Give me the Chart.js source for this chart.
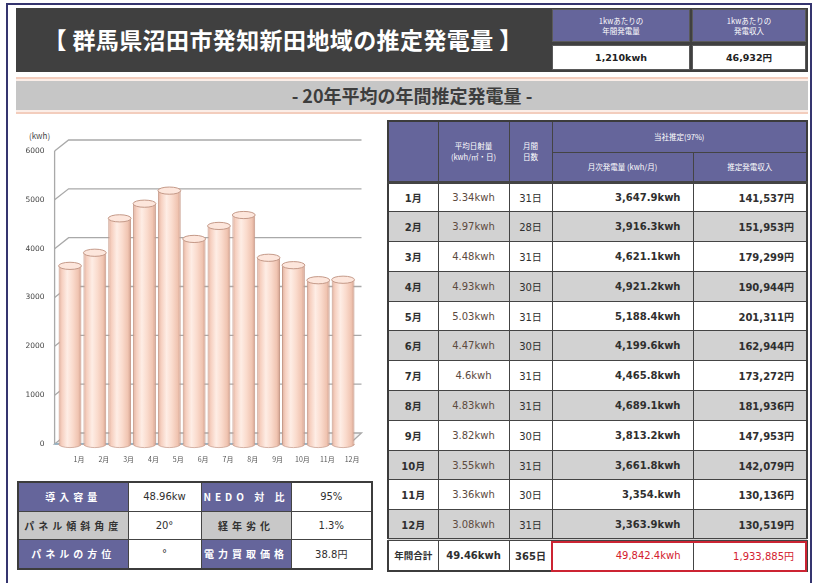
<!DOCTYPE html>
<html><head><meta charset="utf-8">
<script src="https://cdn.jsdelivr.net/npm/chart.js@4.4.1/dist/chart.umd.min.js"></script>
<style>
body{margin:0;background:#fff;}
#page{position:relative;width:817px;height:583px;overflow:hidden;font-family:"Noto Sans CJK JP",sans-serif;background:#fff;}
.a{position:absolute;box-sizing:border-box;}
#frame{left:6px;top:3px;width:806px;height:620px;border:2px solid #35356f;}
#hdr{left:16px;top:8px;width:792px;height:64px;background:#404040;}
#title{left:16px;top:8px;width:534px;height:64px;line-height:62px;text-align:center;color:#fff;font-size:23px;font-weight:bold;letter-spacing:0.4px;}
.hc{background:#65659b;color:#fff;font-size:7.5px;text-align:center;line-height:10px;padding-top:6px;border:1px solid #5a5a5a;}
.hv{background:#fff;color:#222;font-size:9.5px;font-weight:bold;text-align:center;line-height:23px;font-family:"DejaVu Sans","Noto Sans CJK JP",sans-serif;border:1px solid #5a5a5a;}
#banner{left:16px;top:77px;width:792px;height:37px;background:#c6c6c6;border-top:2px solid #f3cdbd;border-bottom:2px solid #f3cdbd;box-shadow:inset 0 2px 0 #fbeee8,inset 0 -2px 0 #fbeee8;text-align:center;line-height:32px;font-size:18px;font-weight:bold;color:#3d3d3d;}
#unit{left:29px;top:130px;font-size:8px;color:#444;}
#chartbox{left:16px;top:120px;width:360px;height:350px;}
table{border-collapse:collapse;table-layout:fixed;position:absolute;}
#rt{left:387px;top:120px;width:419px;border:2px solid #3c3c3c;}
#rt th{background:#65659b;color:#fff;font-size:7.5px;font-weight:normal;border:1.5px solid #444;line-height:11px;padding:0;}
#rt td{border:1.5px solid #444;padding:0;font-size:10px;font-weight:bold;color:#2f2f2f;font-family:"DejaVu Sans","Noto Sans CJK JP",sans-serif;}
#rt tbody tr{height:29.8px;}
#rt tbody tr.g td{background:#d2d2d2;}
#rt td.m{text-align:center;}
#rt td.av{text-align:center;font-weight:normal;color:#5c4a3e;font-size:10px;}
#rt td.d{text-align:center;font-weight:normal;color:#2f2f2f;}
#rt td.r{text-align:right;padding-right:12px;}
#rt td.red{color:#d3202e;font-weight:normal;}
#rt tr.tot td{border-top:3px double #444;}
#redbox{left:551px;top:541px;width:256px;height:31px;border:2.5px solid #cc2433;}
#lt{left:17px;top:481px;width:354px;border:2px solid #3c3c3c;}
#lt td{border:1.5px solid #444;height:27.5px;padding:0;text-align:center;font-size:10px;font-weight:bold;color:#2f2f2f;}
#lt td.p{background:#65659b;color:#fff;letter-spacing:4px;}
#lt td.gy{background:#c8c8c8;color:#333;letter-spacing:4px;}
#lt td.v{font-family:"DejaVu Sans","Noto Sans CJK JP",sans-serif;font-weight:normal;}
</style></head>
<body>
<div id="page">
  <div class="a" id="frame"></div>
  <div class="a" id="hdr"></div>
  <div class="a" id="title">【 群馬県沼田市発知新田地域の推定発電量 】</div>
  <div class="a hc" style="left:552px;top:9px;width:138px;height:33px;">1kwあたりの<br>年間発電量</div>
  <div class="a hc" style="left:692px;top:9px;width:114px;height:33px;">1kwあたりの<br>発電収入</div>
  <div class="a hv" style="left:552px;top:45px;width:138px;height:25px;" id="perKwh"></div>
  <div class="a hv" style="left:692px;top:45px;width:114px;height:25px;" id="perYen"></div>
  <div class="a" id="banner">- 20年平均の年間推定発電量 -</div>
  <div class="a" id="unit">(kwh)</div>
  <div class="a" id="chartbox"><canvas id="c" width="360" height="350"></canvas></div>

  <table id="rt">
    <colgroup><col style="width:50px"><col style="width:71px"><col style="width:43px"><col style="width:141px"><col style="width:114px"></colgroup>
    <thead>
      <tr style="height:31px"><th rowspan="2" style="border-bottom:3px solid #444"></th><th rowspan="2" style="border-bottom:3px solid #444">平均日射量<br>(kwh/㎡・日)</th><th rowspan="2" style="border-bottom:3px solid #444">月間<br>日数</th><th colspan="2">当社推定(97%)</th></tr>
      <tr style="height:30px"><th style="border-bottom:3px solid #444">月次発電量 (kwh/月)</th><th style="border-bottom:3px solid #444">推定発電収入</th></tr>
    </thead>
    <tbody id="rtb"></tbody>
  </table>
  <div class="a" id="redbox"></div>

  <table id="lt">
    <colgroup><col style="width:110px"><col style="width:73px"><col style="width:90px"><col style="width:81px"></colgroup>
    <tbody id="ltb"></tbody>
  </table>
</div>
<script>
// ---- data ----
const months = ['1月','2月','3月','4月','5月','6月','7月','8月','9月','10月','11月','12月'];
const monthlyKwh = [3647.9, 3916.3, 4621.1, 4921.2, 5188.4, 4199.6, 4465.8, 4689.1, 3813.2, 3661.8, 3354, 3363.9];
const avgInsolation = ['3.34','3.97','4.48','4.93','5.03','4.47','4.6','4.83','3.82','3.55','3.36','3.08'];
const daysInMonth = [31, 28, 31, 30, 31, 30, 31, 31, 30, 31, 30, 31];
const incomeYen = [141537, 151953, 179299, 190944, 201311, 162944, 173272, 181936, 147953, 142079, 130136, 130519];
const totalKwhLabel = '49,842.4kwh';
const totalYenLabel = '1,933,885円';
const totalInsolationLabel = '49.46kwh';
const totalDaysLabel = '365日';
const yTicks = [0, 1000, 2000, 3000, 4000, 5000, 6000];
const perKwLabels = ['1,210kwh', '46,932円'];
const specRows = [
  ['導入容量', '48.96kw', 'NEDO 対 比', '95%'],
  ['パネル傾斜角度', '20°', '経年劣化', '1.3%'],
  ['パネルの方位', '°', '電力買取価格', '38.8円']
];

// ---- text tables ----
function fmtKwh(v){
  const ip = Math.floor(v), dp = Math.round((v-ip)*10);
  return ip.toLocaleString('en-US') + '.' + (dp ? dp : '') + 'kwh';
}
document.getElementById('perKwh').textContent = perKwLabels[0];
document.getElementById('perYen').textContent = perKwLabels[1];
const rtb = document.getElementById('rtb');
months.forEach((m,i)=>{
  const tr = document.createElement('tr');
  if(i%2===1) tr.className='g';
  tr.innerHTML = `<td class="m">${m}</td><td class="av">${avgInsolation[i]}kwh</td><td class="d">${daysInMonth[i]}日</td><td class="r">${fmtKwh(monthlyKwh[i])}</td><td class="r">${incomeYen[i].toLocaleString('en-US')}円</td>`;
  rtb.appendChild(tr);
});
const ttr = document.createElement('tr');
ttr.className='tot'; ttr.style.height='31px';
ttr.innerHTML = `<td class="m" style="font-size:9.5px">年間合計</td><td class="d" style="font-weight:bold">${totalInsolationLabel}</td><td class="d" style="font-weight:bold">${totalDaysLabel}</td><td class="r red">${totalKwhLabel}</td><td class="r red">${totalYenLabel}</td>`;
rtb.appendChild(ttr);
const ltb = document.getElementById('ltb');
specRows.forEach((r,i)=>{
  const tr = document.createElement('tr');
  const cls = i===1 ? 'gy' : 'p';
  tr.innerHTML = `<td class="${cls}">${r[0]}</td><td class="v">${r[1]}</td><td class="${cls}">${r[2]}</td><td class="v">${r[3]}</td>`;
  ltb.appendChild(tr);
});

// ---- chart ----
const BAR_PCT = 0.92;
const DX = 14, DY = 11;
function cylGrad(c){
  const chart = c.chart, xs = chart.scales && chart.scales.x;
  if(!xs || c.dataIndex == null || !chart.chartArea) return '#f8d3c2';
  const cx = xs.getPixelForValue(c.dataIndex);
  const step = xs.getPixelForValue(1) - xs.getPixelForValue(0);
  const bw = step * BAR_PCT;
  const g = chart.ctx.createLinearGradient(cx - bw/2, 0, cx + bw/2, 0);
  g.addColorStop(0, '#dcae9d');
  g.addColorStop(0.14, '#f6cfbf');
  g.addColorStop(0.38, '#feede5');
  g.addColorStop(0.62, '#fadbcd');
  g.addColorStop(0.86, '#f0c4b1');
  g.addColorStop(1, '#cf9e8c');
  return g;
}
const threeD = {
  id: 'threeD',
  beforeDatasetsDraw(chart){
    const {ctx, chartArea: a, scales: {y}} = chart;
    const L = a.left - 3, R = a.right + 6;
    const y0 = y.getPixelForValue(0);
    ctx.save();
    ctx.strokeStyle = '#a9a9a9'; ctx.lineWidth = 1.3;
    y.ticks.forEach(t=>{
      if(t.value === 0) return;
      const py = y.getPixelForValue(t.value);
      ctx.beginPath(); ctx.moveTo(L, py); ctx.lineTo(L + DX, py - DY); ctx.lineTo(R, py - DY); ctx.stroke();
    });
    ctx.beginPath(); ctx.moveTo(L, y.getPixelForValue(y.max)); ctx.lineTo(L, y0); ctx.stroke();
    ctx.fillStyle = '#f4f4f4';
    ctx.beginPath(); ctx.moveTo(L, y0); ctx.lineTo(L + DX, y0 - DY); ctx.lineTo(R, y0 - DY); ctx.lineTo(R - DX + 2, y0); ctx.closePath(); ctx.fill(); ctx.stroke();
    ctx.strokeStyle = '#8fb3ca'; ctx.lineWidth = 1.5;
    ctx.beginPath(); ctx.moveTo(L, y0); ctx.lineTo(R - DX + 2, y0); ctx.stroke();
    ctx.restore();
  },
  afterDatasetsDraw(chart){
    const ctx = chart.ctx;
    const meta = chart.getDatasetMeta(0);
    ctx.save();
    meta.data.forEach((bar, i)=>{
      const p = bar.getProps(['x','y','base','width'], true);
      const rx = p.width/2, ry = 3.6;
      ctx.fillStyle = bar.options.backgroundColor;
      ctx.beginPath(); ctx.ellipse(p.x, p.base, rx, ry, 0, 0, Math.PI); ctx.fill();
      ctx.strokeStyle = '#c9a090'; ctx.lineWidth = 0.8; ctx.stroke();
      ctx.beginPath(); ctx.ellipse(p.x, p.y, rx, ry, 0, 0, 2*Math.PI);
      ctx.fillStyle = '#fde6dc'; ctx.fill();
      ctx.strokeStyle = '#c49988'; ctx.lineWidth = 1; ctx.stroke();
    });
    ctx.restore();
  }
};
new Chart(document.getElementById('c'), {
  type: 'bar',
  data: {
    labels: months,
    datasets: [{
      data: monthlyKwh,
      backgroundColor: cylGrad,
      borderColor: '#c79a89',
      borderWidth: {left: 1, right: 1, top: 0, bottom: 0},
      borderSkipped: false,
      barPercentage: BAR_PCT,
      categoryPercentage: 1
    }]
  },
  options: {
    responsive: false,
    animation: false,
    devicePixelRatio: 1,
    layout: {padding: {top: 31, right: 20.5, bottom: 0, left: 0}},
    plugins: {legend: {display: false}, tooltip: {enabled: false}},
    scales: {
      x: {
        grid: {display: false, drawTicks: false},
        border: {display: false},
        ticks: {color: '#555', font: {size: 7, family: '"Noto Sans CJK JP"'}, padding: 11, labelOffset: 9, maxRotation: 0, autoSkip: false},
        afterFit(s){ s.height = 26; }
      },
      y: {
        min: 0, max: 6000,
        afterBuildTicks(s){ s.ticks = yTicks.map(v=>({value: v})); },
        grid: {display: false, drawTicks: false},
        border: {display: false},
        ticks: {color: '#444', font: {size: 7.5, family: '"DejaVu Sans"'}, padding: 13, callback: v => String(v)},
        afterFit(s){ s.width = 41.6; }
      }
    }
  },
  plugins: [threeD]
});
</script>
</body></html>
